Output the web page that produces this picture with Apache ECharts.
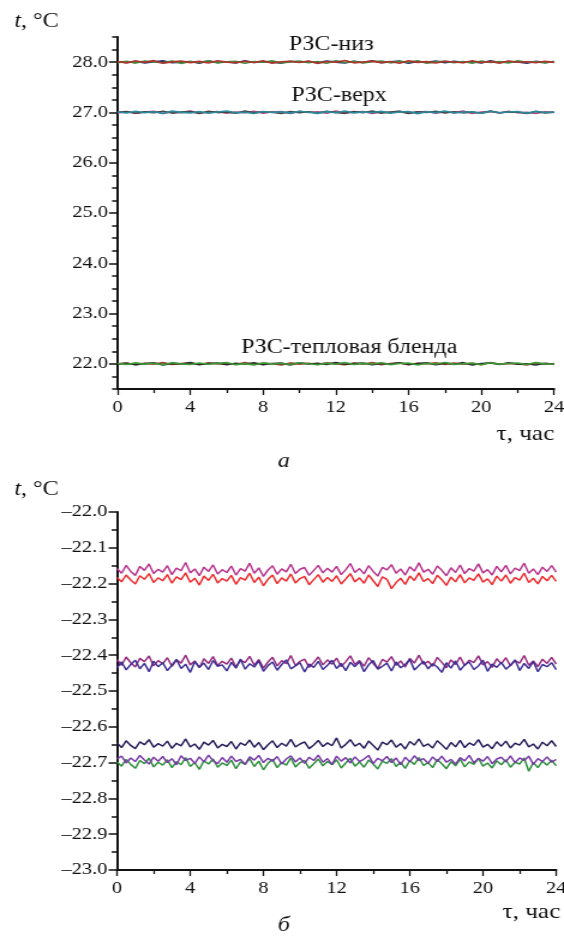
<!DOCTYPE html>
<html>
<head>
<meta charset="utf-8">
<script src="https://cdn.jsdelivr.net/npm/echarts@6/dist/echarts.min.js"></script>
<style>
html,body{margin:0;padding:0;background:#fff;overflow:hidden}
/* the printed figure is horizontally stretched (~1.2x); reproduce that */
#c{width:470px;height:938px;transform:scaleX(1.2);transform-origin:0 0}
</style>
</head>
<body>
<div id="c"></div>
<script>
// ---- time axes (hours) ----
const hoursTop = [0,0.5,1,1.5,2,2.5,3,3.5,4,4.5,5,5.5,6,6.5,7,7.5,8,8.5,9,9.5,10,10.5,11,11.5,12,12.5,13,13.5,14,14.5,15,15.5,16,16.5,17,17.5,18,18.5,19,19.5,20,20.5,21,21.5,22,22.5,23,23.5,24];
const hoursBottom = [
0,0.25,0.5,0.75,1,1.25,1.5,1.75,2,2.25,2.5,2.75,3,3.25,3.5,3.75,
4,4.25,4.5,4.75,5,5.25,5.5,5.75,6,6.25,6.5,6.75,7,7.25,7.5,7.75,
8,8.25,8.5,8.75,9,9.25,9.5,9.75,10,10.25,10.5,10.75,11,11.25,11.5,11.75,
12,12.25,12.5,12.75,13,13.25,13.5,13.75,14,14.25,14.5,14.75,15,15.25,15.5,15.75,
16,16.25,16.5,16.75,17,17.25,17.5,17.75,18,18.25,18.5,18.75,19,19.25,19.5,19.75,
20,20.25,20.5,20.75,21,21.25,21.5,21.75,22,22.25,22.5,22.75,23,23.25,23.5,23.75,
24];

// ---- tick labels ----
const topTicks = [22,23,24,25,26,27,28];
const xTicks = [0,4,8,12,16,20,24];

// ---- panel a: РЗС-низ (~28 °C) ----
const niz1 = [28.004,27.993,28.018,27.982,28.009,28.025,27.988,28.001,28.014,27.979,
28.021,27.996,28.007,27.985,28.027,27.992,28.011,28.003,27.981,28.019,
27.997,28.013,27.986,28.024,28.000,27.983,28.016,27.994,28.028,27.989,
28.006,28.020,27.980,28.012,27.998,28.023,27.987,28.015,27.995,28.008,
27.984,28.026,27.991,28.010,28.002,27.978,28.017,27.993,28.005];
const niz2 = [27.990,28.016,27.981,28.024,28.003,27.987,28.020,27.976,28.011,27.995,
28.027,27.984,28.008,28.019,27.979,28.014,27.998,28.025,27.983,28.006,
28.021,27.988,28.012,27.977,28.028,27.993,28.017,27.982,28.009,28.023,
27.986,28.015,27.997,28.026,27.980,28.005,28.018,27.991,28.013,27.978,
28.022,27.994,28.010,27.985,28.029,27.999,28.007,27.983,28.016];
const niz3 = [28.012,27.985,28.024,27.998,28.030,27.978,28.006,28.021,27.990,28.015,
27.982,28.027,28.001,27.988,28.019,27.994,28.028,27.980,28.009,28.017,
27.992,28.023,27.976,28.013,27.997,28.032,27.986,28.004,28.020,27.991,
28.014,27.979,28.026,27.996,28.010,27.984,28.018,28.002,27.989,28.029,
27.993,28.011,27.981,28.022,27.999,28.008,27.987,28.016,27.995];

// ---- panel a: РЗС-верх (~27 °C) ----
const verh1 = [26.991,27.015,26.984,27.006,27.023,26.979,27.012,26.996,27.027,26.988,
27.003,27.019,26.982,27.010,26.994,27.025,26.986,27.008,27.016,26.977,
27.021,26.999,27.013,26.985,27.029,26.992,27.005,27.018,26.981,27.011,
26.997,27.024,26.987,27.007,27.020,26.983,27.014,26.993,27.026,26.980,
27.009,27.017,26.990,27.022,26.995,27.004,26.978,27.013,27.001];
const verh2 = [27.002,27.019,26.983,27.011,26.993,27.025,26.987,27.006,27.016,26.980,
27.022,26.997,27.009,26.985,27.028,26.991,27.013,27.004,26.979,27.020,
26.996,27.012,26.988,27.024,27.000,26.982,27.017,26.994,27.027,26.986,
27.007,27.021,26.981,27.014,26.998,27.023,26.989,27.015,26.992,27.010,
26.984,27.026,26.995,27.008,27.003,26.977,27.018,26.990,27.005];
const verh3 = [27.008,26.987,27.022,26.995,27.013,26.980,27.026,27.001,26.990,27.017,
26.983,27.010,27.029,26.992,27.005,26.978,27.020,26.997,27.014,26.986,
27.024,27.002,26.981,27.016,26.994,27.027,26.988,27.011,26.999,27.021,
26.984,27.007,27.019,26.976,27.012,26.996,27.028,26.989,27.004,27.015,
26.982,27.023,26.993,27.009,27.018,26.985,27.025,26.998,27.006];

// ---- panel a: РЗС-тепловая бленда (~22 °C) ----
const blenda1 = [22.003,22.017,21.984,22.010,21.992,22.024,21.988,22.005,22.015,21.981,
22.021,21.996,22.008,21.986,22.026,21.990,22.012,22.002,21.980,22.019,
21.995,22.011,21.987,22.023,21.999,21.983,22.016,21.993,22.025,21.985,
22.006,22.020,21.982,22.013,21.997,22.022,21.989,22.014,21.991,22.009,
21.985,22.027,21.994,22.007,22.001,21.978,22.018,21.991,22.004];
const blenda2 = [21.994,22.013,21.982,22.008,22.021,21.980,22.010,21.997,22.025,21.987,
22.004,22.018,21.983,22.011,21.993,22.023,21.985,22.007,22.015,21.978,
22.020,21.998,22.012,21.986,22.027,21.991,22.005,22.017,21.981,22.009,
21.996,22.022,21.988,22.006,22.019,21.984,22.014,21.992,22.024,21.979,
22.008,22.016,21.989,22.021,21.995,22.003,21.977,22.012,21.990];
const blenda3 = [22.006,21.989,22.020,21.995,22.012,21.981,22.024,22.000,21.986,22.017,
21.993,22.009,22.027,21.984,22.004,21.979,22.019,21.997,22.013,21.988,
22.023,22.001,21.982,22.015,21.992,22.026,21.987,22.010,21.998,22.021,
21.985,22.007,22.018,21.977,22.011,21.996,22.028,21.990,22.003,22.014,
21.983,22.022,21.994,22.008,22.016,21.986,22.025,21.999,21.991];

// ---- panel б ----
const magenta = [-22.158,-22.171,-22.149,-22.166,-22.177,-22.152,-22.163,-22.145,-22.172,-22.160,
-22.168,-22.150,-22.175,-22.157,-22.164,-22.141,-22.170,-22.159,-22.178,-22.154,
-22.166,-22.148,-22.173,-22.161,-22.169,-22.151,-22.176,-22.158,-22.165,-22.143,
-22.171,-22.156,-22.180,-22.162,-22.150,-22.174,-22.159,-22.167,-22.146,-22.172,
-22.160,-22.155,-22.177,-22.163,-22.149,-22.170,-22.157,-22.168,-22.152,-22.175,
-22.161,-22.144,-22.169,-22.158,-22.173,-22.150,-22.166,-22.179,-22.155,-22.162,
-22.147,-22.171,-22.159,-22.176,-22.153,-22.165,-22.142,-22.168,-22.160,-22.174,
-22.151,-22.163,-22.178,-22.156,-22.169,-22.148,-22.172,-22.158,-22.165,-22.145,
-22.170,-22.161,-22.176,-22.152,-22.167,-22.149,-22.173,-22.157,-22.164,-22.143,
-22.171,-22.159,-22.175,-22.154,-22.166,-22.150,-22.168];
const red = [-22.183,-22.195,-22.176,-22.190,-22.201,-22.178,-22.188,-22.172,-22.197,-22.184,
-22.192,-22.175,-22.199,-22.181,-22.189,-22.170,-22.196,-22.185,-22.204,-22.179,
-22.191,-22.174,-22.198,-22.186,-22.193,-22.177,-22.202,-22.183,-22.190,-22.171,
-22.197,-22.182,-22.206,-22.188,-22.176,-22.200,-22.184,-22.193,-22.173,-22.198,
-22.186,-22.180,-22.203,-22.189,-22.175,-22.196,-22.183,-22.194,-22.178,-22.201,
-22.187,-22.172,-22.195,-22.184,-22.199,-22.176,-22.192,-22.208,-22.181,-22.188,
-22.214,-22.197,-22.185,-22.202,-22.179,-22.191,-22.170,-22.194,-22.186,-22.200,
-22.177,-22.189,-22.205,-22.182,-22.195,-22.175,-22.198,-22.184,-22.191,-22.173,
-22.196,-22.187,-22.203,-22.179,-22.193,-22.176,-22.199,-22.183,-22.190,-22.171,
-22.197,-22.185,-22.201,-22.180,-22.192,-22.177,-22.194];
const purpleMid = [-22.412,-22.428,-22.405,-22.421,-22.433,-22.409,-22.418,-22.402,-22.430,-22.415,
-22.424,-22.407,-22.431,-22.413,-22.422,-22.400,-22.427,-22.416,-22.435,-22.410,
-22.423,-22.404,-22.429,-22.417,-22.425,-22.408,-22.433,-22.414,-22.421,-22.403,
-22.428,-22.412,-22.436,-22.419,-22.406,-22.430,-22.415,-22.424,-22.401,-22.429,
-22.417,-22.411,-22.434,-22.420,-22.405,-22.427,-22.413,-22.425,-22.408,-22.432,
-22.418,-22.402,-22.426,-22.415,-22.431,-22.407,-22.423,-22.437,-22.412,-22.419,
-22.404,-22.428,-22.416,-22.433,-22.409,-22.422,-22.400,-22.425,-22.417,-22.431,
-22.406,-22.420,-22.435,-22.413,-22.426,-22.405,-22.429,-22.414,-22.421,-22.402,
-22.427,-22.418,-22.434,-22.410,-22.424,-22.407,-22.430,-22.415,-22.422,-22.401,
-22.428,-22.416,-22.432,-22.411,-22.423,-22.406,-22.425];
const navyMid = [-22.435,-22.419,-22.441,-22.426,-22.414,-22.438,-22.423,-22.446,-22.417,-22.432,
-22.421,-22.443,-22.428,-22.412,-22.437,-22.425,-22.448,-22.418,-22.434,-22.422,
-22.440,-22.415,-22.431,-22.427,-22.444,-22.420,-22.436,-22.411,-22.439,-22.424,
-22.433,-22.416,-22.445,-22.429,-22.419,-22.442,-22.426,-22.413,-22.438,-22.430,
-22.421,-22.447,-22.425,-22.434,-22.417,-22.440,-22.428,-22.414,-22.437,-22.423,
-22.443,-22.420,-22.432,-22.418,-22.446,-22.427,-22.415,-22.439,-22.431,-22.422,
-22.444,-22.419,-22.435,-22.426,-22.412,-22.441,-22.429,-22.417,-22.438,-22.424,
-22.433,-22.448,-22.421,-22.436,-22.416,-22.442,-22.427,-22.419,-22.440,-22.430,
-22.414,-22.445,-22.425,-22.434,-22.420,-22.439,-22.428,-22.413,-22.443,-22.423,
-22.437,-22.418,-22.446,-22.426,-22.432,-22.421,-22.440];
const navyLow = [-22.645,-22.658,-22.639,-22.652,-22.661,-22.642,-22.650,-22.636,-22.657,-22.647,
-22.654,-22.640,-22.660,-22.646,-22.653,-22.634,-22.656,-22.648,-22.663,-22.643,
-22.651,-22.638,-22.659,-22.649,-22.655,-22.641,-22.662,-22.645,-22.652,-22.637,
-22.657,-22.644,-22.664,-22.650,-22.639,-22.658,-22.646,-22.654,-22.635,-22.656,
-22.648,-22.642,-22.661,-22.651,-22.638,-22.655,-22.645,-22.653,-22.631,-22.659,
-22.649,-22.636,-22.654,-22.646,-22.660,-22.640,-22.652,-22.665,-22.643,-22.650,
-22.637,-22.657,-22.647,-22.662,-22.641,-22.651,-22.634,-22.655,-22.648,-22.659,
-22.639,-22.650,-22.663,-22.644,-22.656,-22.638,-22.658,-22.645,-22.652,-22.636,
-22.657,-22.649,-22.661,-22.642,-22.654,-22.640,-22.659,-22.646,-22.651,-22.635,
-22.656,-22.648,-22.662,-22.643,-22.653,-22.639,-22.655];
const greenLow = [-22.698,-22.710,-22.691,-22.705,-22.716,-22.694,-22.703,-22.688,-22.712,-22.699,
-22.707,-22.692,-22.714,-22.697,-22.706,-22.686,-22.711,-22.700,-22.719,-22.695,
-22.704,-22.690,-22.713,-22.701,-22.708,-22.693,-22.717,-22.698,-22.705,-22.689,
-22.711,-22.696,-22.720,-22.702,-22.691,-22.714,-22.699,-22.707,-22.687,-22.712,
-22.700,-22.694,-22.716,-22.703,-22.690,-22.709,-22.697,-22.706,-22.692,-22.715,
-22.701,-22.688,-22.710,-22.698,-22.713,-22.693,-22.704,-22.718,-22.696,-22.702,
-22.689,-22.711,-22.699,-22.716,-22.694,-22.705,-22.686,-22.708,-22.700,-22.714,
-22.691,-22.703,-22.717,-22.697,-22.709,-22.690,-22.712,-22.698,-22.705,-22.688,
-22.710,-22.701,-22.715,-22.695,-22.706,-22.692,-22.713,-22.699,-22.704,-22.687,
-22.724,-22.700,-22.714,-22.696,-22.707,-22.693,-22.709];
const purpleLow = [-22.690,-22.682,-22.701,-22.687,-22.697,-22.680,-22.693,-22.704,-22.685,-22.696,
-22.683,-22.700,-22.689,-22.706,-22.681,-22.694,-22.688,-22.702,-22.684,-22.698,
-22.679,-22.695,-22.703,-22.686,-22.699,-22.682,-22.697,-22.691,-22.705,-22.684,
-22.693,-22.680,-22.700,-22.688,-22.696,-22.683,-22.704,-22.690,-22.681,-22.698,
-22.687,-22.702,-22.685,-22.694,-22.679,-22.699,-22.689,-22.705,-22.682,-22.696,
-22.686,-22.701,-22.684,-22.697,-22.690,-22.680,-22.703,-22.688,-22.695,-22.683,
-22.700,-22.687,-22.706,-22.685,-22.698,-22.681,-22.694,-22.689,-22.702,-22.684,
-22.697,-22.682,-22.699,-22.691,-22.704,-22.686,-22.695,-22.680,-22.701,-22.688,
-22.696,-22.683,-22.703,-22.690,-22.685,-22.698,-22.681,-22.700,-22.687,-22.694,
-22.682,-22.705,-22.689,-22.697,-22.684,-22.699,-22.691];

const FONT = '"Liberation Serif","Times New Roman",serif';
const INK = '#111';
const topMinorTicks = [];
for (let k = 0; k <= 28; k++) { const v = 21.5 + k * 0.25; if (v % 1 !== 0) topMinorTicks.push(v); }

function pairs(xs, ys) { return ys.map((y, i) => [xs[i], y]); }
function line(name, xs, ys, color, grid, width) {
  return { name, type: 'line', xAxisIndex: grid, yAxisIndex: grid === 0 ? 0 : 2,
    data: pairs(xs, ys), showSymbol: false, symbol: 'none', animation: false,
    lineStyle: { color, width }, emphasis: { disabled: true } };
}

const lbl = { fontFamily: FONT, fontSize: 17, color: INK };
const axLine = { show: true, onZero: false, lineStyle: { color: INK, width: 2 } };

function xAxis(grid) {
  return { type: 'value', gridIndex: grid, min: 0, max: 24, interval: 4,
    axisLine: axLine, splitLine: { show: false },
    axisTick: { show: true, inside: false, length: 6, lineStyle: { color: INK, width: 1.3 } },
    minorTick: { show: true, splitNumber: 2, length: 4, lineStyle: { color: INK, width: 1.3 } },
    axisLabel: Object.assign({ margin: 10, customValues: xTicks, hideOverlap: false }, lbl) };
}

const option = {
  animation: false,
  backgroundColor: '#fff',
  grid: [
    { left: 97.9, top: 37, width: 363.8, height: 352, outerBoundsMode: 'none', containLabel: false },
    { left: 97.5, top: 512, width: 366, height: 358, outerBoundsMode: 'none', containLabel: false }
  ],
  xAxis: [xAxis(0), xAxis(1)],
  yAxis: [
    { type: 'value', gridIndex: 0, min: 21.5, max: 28.5,
      axisLine: axLine, splitLine: { show: false },
      axisTick: { show: true, customValues: topTicks, length: 7, lineStyle: { color: INK, width: 1.5 } },
      axisLabel: Object.assign({ margin: 8, customValues: topTicks, formatter: v => Number(v).toFixed(1) }, lbl) },
    { type: 'value', gridIndex: 0, min: 21.5, max: 28.5, position: 'left',
      axisLine: { show: false }, splitLine: { show: false }, axisLabel: { show: false },
      axisTick: { show: true, customValues: topMinorTicks, length: 4.5, lineStyle: { color: INK, width: 1.5 } } },
    { type: 'value', gridIndex: 1, min: -23, max: -22, interval: 0.1,
      axisLine: axLine, splitLine: { show: false },
      axisTick: { show: true, length: 7, lineStyle: { color: INK, width: 1.5 } },
      minorTick: { show: true, splitNumber: 2, length: 4.5, lineStyle: { color: INK, width: 1.5 } },
      axisLabel: Object.assign({ margin: 8, formatter: v => Number(v).toFixed(1).replace('-', '\u2013') }, lbl) }
  ],
  series: [
    line('низ-3', hoursTop, niz1, '#2d2f6e', 0, 1.6),
    line('низ-2', hoursTop, niz2, '#3f8c3c', 0, 1.6),
    line('низ-1', hoursTop, niz3, '#b0332e', 0, 1.6),
    line('верх-3', hoursTop, verh1, '#b04a8a', 0, 1.6),
    line('верх-2', hoursTop, verh2, '#454545', 0, 1.6),
    line('верх-1', hoursTop, verh3, '#2b8a9c', 0, 1.6),
    line('бленда-3', hoursTop, blenda1, '#a8402e', 0, 1.6),
    line('бленда-2', hoursTop, blenda2, '#2a2a2a', 0, 1.6),
    line('бленда-1', hoursTop, blenda3, '#3f9a3a', 0, 1.6),
    line('m', hoursBottom, magenta, '#b8348f', 1, 1.5),
    line('r', hoursBottom, red, '#ee2a2e', 1, 1.5),
    line('pm', hoursBottom, purpleMid, '#962a7e', 1, 1.5),
    line('nm', hoursBottom, navyMid, '#3c2f94', 1, 1.5),
    line('nl', hoursBottom, navyLow, '#2a1d5c', 1, 1.5),
    line('gl', hoursBottom, greenLow, '#2f8f3e', 1, 1.5),
    line('pl', hoursBottom, purpleLow, '#7a3aa8', 1, 1.5)
  ],
  graphic: [
    { type: 'text', left: 12, top: 12, style: { text: '{i|t}, °C', font: '20px ' + FONT, fill: INK,
      rich: { i: { fontStyle: 'italic', fontFamily: FONT, fontSize: 20, fill: INK } } } },
    { type: 'text', left: 12, top: 480, style: { text: '{i|t}, °C', font: '20px ' + FONT, fill: INK,
      rich: { i: { fontStyle: 'italic', fontFamily: FONT, fontSize: 20, fill: INK } } } },
    { type: 'text', x: 276, y: 45, style: { text: 'РЗС-низ', font: '20px ' + FONT, fill: INK, align: 'center', verticalAlign: 'middle' } },
    { type: 'text', x: 282.5, y: 96, style: { text: 'РЗС-верх', font: '20px ' + FONT, fill: INK, align: 'center', verticalAlign: 'middle' } },
    { type: 'text', x: 291, y: 348, style: { text: 'РЗС-тепловая бленда', font: '20px ' + FONT, fill: INK, align: 'center', verticalAlign: 'middle' } },
    { type: 'text', x: 462, y: 434, style: { text: 'τ, час', font: '21px ' + FONT, fill: INK, align: 'right', verticalAlign: 'middle' } },
    { type: 'text', x: 467, y: 912, style: { text: 'τ, час', font: '21px ' + FONT, fill: INK, align: 'right', verticalAlign: 'middle' } },
    { type: 'text', x: 236.5, y: 462, style: { text: 'а', font: 'italic 20px ' + FONT, fill: INK, align: 'center', verticalAlign: 'middle' } },
    { type: 'text', x: 236.5, y: 926, style: { text: 'б', font: 'italic 20px ' + FONT, fill: INK, align: 'center', verticalAlign: 'middle' } }
  ]
};

const chart = echarts.init(document.getElementById('c'), null, { renderer: 'canvas' });
chart.setOption(option);
</script>
</body>
</html>
